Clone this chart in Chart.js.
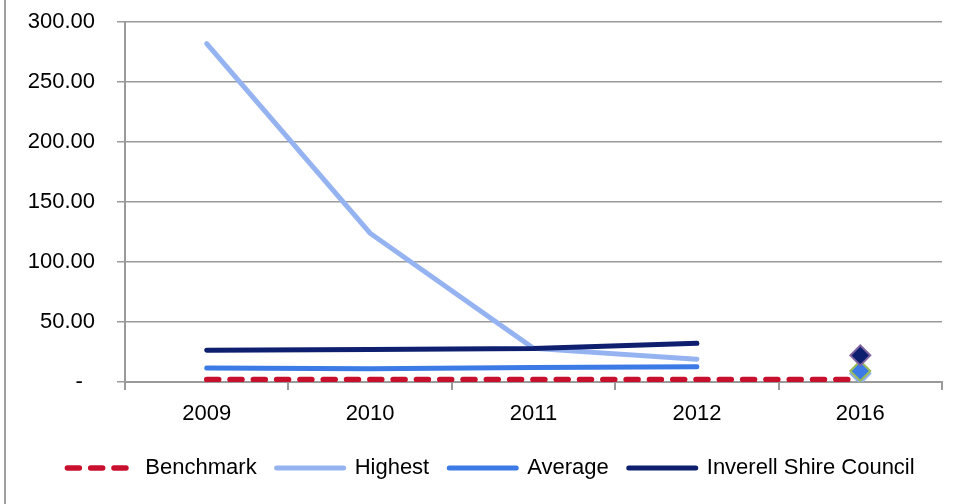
<!DOCTYPE html>
<html>
<head>
<meta charset="utf-8">
<script src="https://cdn.jsdelivr.net/npm/chart.js@4/dist/chart.umd.min.js"></script>
<style>
  html, body { margin: 0; padding: 0; background: #fff; }
  #wrap { width: 960px; height: 504px; }
</style>
</head>
<body>
<div id="wrap"><canvas id="myChart"></canvas></div>
<script>
// years on the x axis
var years = ['2009', '2010', '2011', '2012', '2016'];

// series values (2016 is only a single marker for the council lines)
var benchmark = [2, 2, 2, 2, 2];
var highest = [282, 124, 28, 19, 7];
var average = [11.7, 11, 12, 12.7, 9.2];
var inverell = [26.4, 27, 28, 32.2, 22.2];

var yTicks = [0, 50, 100, 150, 200, 250, 300];

var gridGrey = '#9a9a9a';

Chart.defaults.font.family = '"Liberation Sans", Arial, sans-serif';
Chart.defaults.font.size = 22;
Chart.defaults.color = '#000';

// no line from 2012 across to the 2016 marker
function gapTo2016(ctx) {
    return ctx.p1DataIndex === 4 ? 'rgba(0,0,0,0)' : undefined;
}

var markerRadius = [0, 0, 0, 0, 10];

// thin grey frame line down the left edge, and nudge the legend right
var frameAndLegend = {
    id: 'frameAndLegend',
    afterLayout: function(chart) {
        chart.legend.left += 10;
        chart.legend.right += 10;
    },
    beforeDraw: function(chart) {
        var c = chart.ctx;
        c.save();
        c.fillStyle = '#fff';
        c.fillRect(0, 0, chart.width, chart.height);
        c.strokeStyle = '#a0a0a0';
        c.lineWidth = 2;
        c.beginPath();
        c.moveTo(5, 0);
        c.lineTo(5, chart.height);
        c.stroke();
        c.restore();
    }
};

new Chart('myChart', {
    type: 'line',
    data: {
        labels: years,
        datasets: [{
            label: 'Benchmark',
            data: benchmark,
            borderColor: '#c8102e',
            backgroundColor: '#c8102e',
            borderWidth: 5.5,
            borderDash: [12, 11.3],
            borderCapStyle: 'round',
            pointRadius: 0,
            fill: false,
            order: 4
        }, {
            label: 'Highest',
            data: highest,
            borderColor: '#95b3f0',
            backgroundColor: '#95b3f0',
            borderWidth: 5,
            borderCapStyle: 'round',
            segment: { borderColor: gapTo2016 },
            pointStyle: 'rectRot',
            pointRadius: markerRadius,
            pointBackgroundColor: '#95b3f0',
            pointBorderColor: '#8fb0ee',
            pointBorderWidth: 2,
            fill: false,
            order: 3
        }, {
            label: 'Average',
            data: average,
            borderColor: '#3c7be6',
            backgroundColor: '#3c7be6',
            borderWidth: 5,
            borderCapStyle: 'round',
            segment: { borderColor: gapTo2016 },
            pointStyle: 'rectRot',
            pointRadius: markerRadius,
            pointBackgroundColor: '#3c7be6',
            pointBorderColor: '#9bbb59',
            pointBorderWidth: 2,
            fill: false,
            order: 2
        }, {
            label: 'Inverell Shire Council',
            data: inverell,
            borderColor: '#0d1f6e',
            backgroundColor: '#0d1f6e',
            borderWidth: 5,
            borderCapStyle: 'round',
            segment: { borderColor: gapTo2016 },
            pointStyle: 'rectRot',
            pointRadius: markerRadius,
            pointBackgroundColor: '#0d1f6e',
            pointBorderColor: '#8064a2',
            pointBorderWidth: 2,
            fill: false,
            order: 1
        }]
    },
    options: {
        responsive: true,
        maintainAspectRatio: false,
        animation: false,
        layout: {
            padding: { left: 20, right: 18, top: 22, bottom: 15 }
        },
        plugins: {
            tooltip: { enabled: false },
            legend: {
                position: 'bottom',
                labels: {
                    usePointStyle: true,
                    pointStyleWidth: 67,
                    boxWidth: 67,
                    padding: 20,
                    color: '#000',
                    // legend samples drawn as the series lines themselves
                    generateLabels: function(chart) {
                        return chart.data.datasets.map(function(ds, i) {
                            return {
                                text: ds.label,
                                datasetIndex: i,
                                fillStyle: ds.borderColor,
                                strokeStyle: ds.borderColor,
                                lineWidth: ds.borderWidth,
                                lineDash: ds.borderDash || [],
                                lineCap: 'round',
                                pointStyle: 'line',
                                fontColor: '#000',
                                hidden: false
                            };
                        });
                    }
                }
            }
        },
        scales: {
            x: {
                offset: true,
                grid: {
                    offset: true,
                    drawOnChartArea: false,
                    drawTicks: true,
                    tickLength: 8,
                    color: gridGrey,
                    lineWidth: 2
                },
                border: { display: true, color: gridGrey, width: 2 },
                ticks: { padding: 11, color: '#000' },
                afterFit: function(scale) { scale.height = 55; }
            },
            y: {
                min: 0,
                max: 300,
                afterBuildTicks: function(scale) {
                    scale.ticks = yTicks.map(function(v) { return { value: v }; });
                },
                grid: {
                    color: gridGrey,
                    lineWidth: 1.5,
                    drawTicks: true,
                    tickLength: 8
                },
                border: { display: true, color: gridGrey, width: 2 },
                ticks: {
                    padding: 22,
                    color: '#000',
                    callback: function(value) {
                        return value === 0 ? '-  ' : value.toFixed(2);
                    }
                },
                afterFit: function(scale) {
                    scale.width = 105;
                    scale.paddingTop = 0;
                    scale.paddingBottom = 0;
                }
            }
        }
    },
    plugins: [frameAndLegend]
});
</script>
</body>
</html>
